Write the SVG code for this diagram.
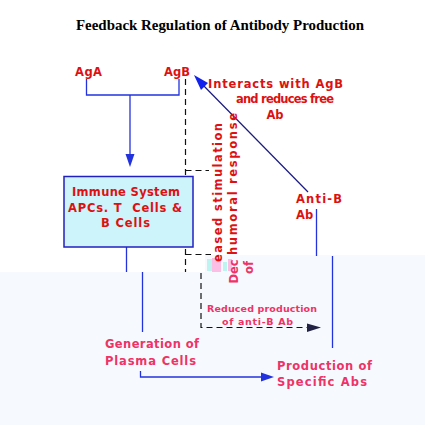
<svg xmlns="http://www.w3.org/2000/svg" width="425" height="425" viewBox="0 0 425 425">
<defs>
<style>
.t{font-family:"DejaVu Sans",Verdana,sans-serif;font-weight:bold;font-size:11.5px;fill:#dd1111}
.p{font-family:"DejaVu Sans",Verdana,sans-serif;font-weight:bold;font-size:11.5px;fill:#ee3366}
.s{font-size:9.5px}
.bl{stroke:#2233dd;stroke-width:1.3;fill:none}
.dash{stroke:#111;stroke-width:1.2;fill:none;stroke-dasharray:6,4}
</style>
</defs>
<rect width="425" height="425" fill="#fff"/>
<polygon points="0,272 205,272 205,255 425,255 425,425 0,425" fill="#f6fafe"/>
<g id="glitch" opacity="0.75">
<rect x="207" y="259" width="5" height="12" fill="#aaf3ee"/>
<rect x="212" y="258" width="9" height="14" fill="#ffaadd"/>
<rect x="223" y="262" width="4" height="9" fill="#aaf3ee"/>
<rect x="228" y="259" width="4" height="12" fill="#ffaadd"/>
</g>
<text x="220" y="30" text-anchor="middle" font-family="'Liberation Serif',serif" font-weight="bold" font-size="14" textLength="288" lengthAdjust="spacingAndGlyphs">Feedback Regulation of Antibody Production</text>

<g id="connectors">
<polyline class="bl" points="86.5,79 86.5,95 179,95 179,79"/>
<line class="bl" x1="130" y1="95" x2="130" y2="157"/>
<polygon points="125.5,154 134.5,154 130,167" fill="#2233dd"/>
<polyline class="dash" points="185.5,79 185.5,272"/>
<polyline class="dash" points="185.5,170.5 209,170.5"/>
<polyline class="dash" points="185.5,254.5 211,254.5"/>
<polyline class="dash" points="201,273 201,327.5 309,327.5"/>
<polygon points="307,323.5 321,327.5 307,332" fill="#222244"/>
<line class="bl" x1="126.5" y1="247" x2="126.5" y2="272"/>
<line class="bl" x1="142.5" y1="272" x2="142.5" y2="332"/>
<polyline class="bl" points="140.5,371 140.5,377 263,377"/>
<polygon points="261,372.5 274,377 261,381.5" fill="#2233dd"/>
<line x1="308" y1="192" x2="200" y2="82" stroke="#1a1a80" stroke-width="1.2"/>
<polygon points="194,75 208,83 201,90" fill="#1122ee"/>
<line class="bl" x1="316.5" y1="209" x2="316.5" y2="256"/>
<line class="bl" x1="332.5" y1="256" x2="332.5" y2="348"/>
</g>

<g id="AgA"><text class="t" x="75" y="76" textLength="27">AgA</text></g>
<g id="AgB"><text class="t" x="164" y="76" textLength="26">AgB</text></g>

<g id="immune">
<rect x="64" y="176.5" width="129" height="70.5" fill="#cdf3fb" stroke="#2020c0" stroke-width="1.5"/>
<text class="t" x="126" y="196" text-anchor="middle" font-size="12" textLength="108">Immune System</text>
<text class="t" x="125" y="212" text-anchor="middle" font-size="12" textLength="114" xml:space="preserve">APCs. T  Cells &amp;</text>
<text class="t" x="125.5" y="227" text-anchor="middle" font-size="12" textLength="49">B Cells</text>
</g>

<g id="interacts">
<text class="t" x="208" y="88" textLength="135">Interacts with AgB</text>
<text class="t" x="285" y="103" text-anchor="middle" textLength="98">and reduces free</text>
<text class="t" x="275" y="119" text-anchor="middle">Ab</text>
</g>

<g id="antiB">
<text class="t" x="296" y="203" textLength="46">Anti-B</text>
<text class="t" x="296" y="219">Ab</text>
</g>

<g id="decreased">
<text class="t" transform="translate(221.5,262) rotate(-90)" font-size="12" fill="#cc1111" textLength="139">eased stimulation</text>
<text class="t" transform="translate(237,255) rotate(-90)" font-size="12" fill="#cc1111" textLength="142">humoral response</text>
<text class="p" transform="translate(238,283.5) rotate(-90)" font-size="11">Dec</text>
<text class="p" transform="translate(253,274) rotate(-90)" font-size="11">of</text>
</g>

<g id="reduced">
<text class="p s" x="262" y="312" text-anchor="middle" textLength="110">Reduced production</text>
<text class="p s" x="257.5" y="324.5" text-anchor="middle" textLength="71">of anti-B Ab</text>
</g>

<g id="generation">
<text class="p" x="105" y="348" textLength="94">Generation of</text>
<text class="p" x="105" y="364.5" textLength="91">Plasma Cells</text>
</g>

<g id="production">
<text class="p" x="277" y="370" textLength="95">Production of</text>
<text class="p" x="277" y="386" textLength="90">Specific Abs</text>
</g>
</svg>
